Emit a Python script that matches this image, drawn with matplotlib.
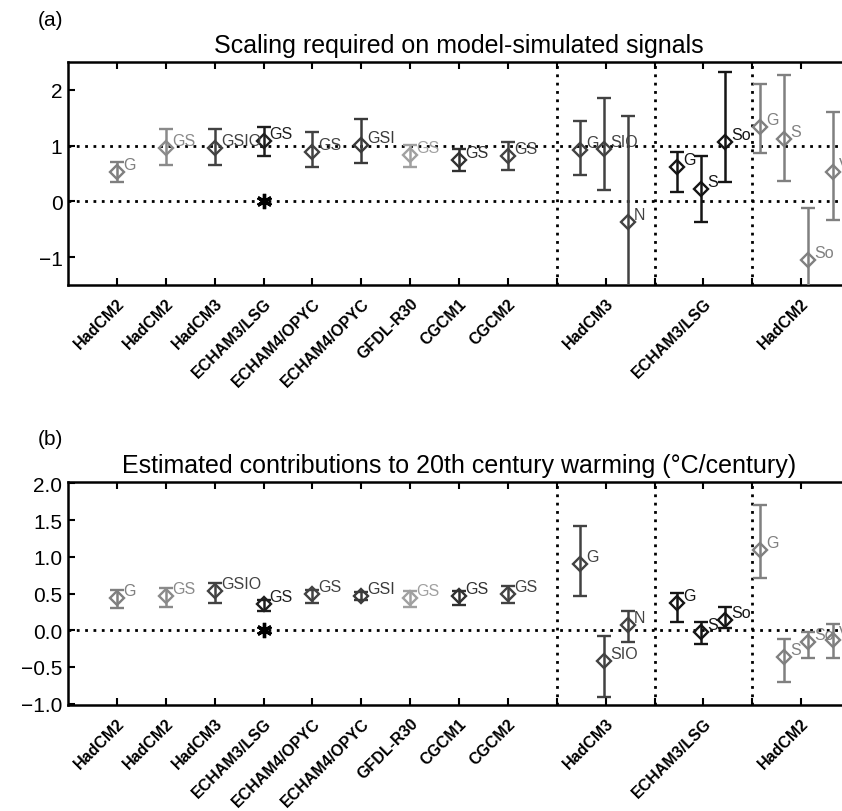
import matplotlib
matplotlib.use("Agg")
import matplotlib.pyplot as plt

plt.rcParams["font.family"] = ["Liberation Sans", "DejaVu Sans"]

# posiciones de cada estimación y su etiqueta de señal
xpos = [1, 2, 3, 4, 5, 6, 7, 8, 9,
        10.47, 10.96, 11.45,
        12.47, 12.96, 13.45,
        14.15, 14.65, 15.15, 15.65]
sig = ["G", "GS", "GSIO", "GS", "GS", "GSI", "GS", "GS", "GS",
       "G", "SIO", "N",
       "G", "S", "So",
       "G", "S", "So", "V"]
grey = ["#7f7f7f", "#8a8a8a", "#424242", "#1e1e1e", "#424242", "#3a3a3a",
        "#a0a0a0", "#303030", "#424242",
        "#424242", "#424242", "#424242",
        "#151515", "#151515", "#151515",
        "#808080", "#808080", "#808080", "#808080"]

# (a) factores de escala
scale_best = [0.53, 0.96, 0.96, 1.08, 0.88, 1.02, 0.83, 0.74, 0.81,
              0.92, 0.94, -0.37, 0.62, 0.22, 1.07, 1.34, 1.11, -1.05, 0.53]
scale_lo = [0.35, 0.65, 0.65, 0.82, 0.62, 0.68, 0.61, 0.55, 0.57,
            0.47, 0.21, -1.7, 0.17, -0.37, 0.35, 0.86, 0.36, -1.7, -0.34]
scale_hi = [0.70, 1.30, 1.30, 1.34, 1.25, 1.48, 1.02, 0.94, 1.06,
            1.44, 1.86, 1.54, 0.89, 0.82, 2.32, 2.10, 2.26, -0.11, 1.60]

# (b) contribuciones al calentamiento
warm_best = [0.44, 0.46, 0.54, 0.36, 0.49, 0.47, 0.44, 0.46, 0.49,
             0.90, -0.42, 0.07, 0.37, -0.02, 0.14, 1.09, -0.36, -0.16, -0.13]
warm_lo = [0.30, 0.31, 0.37, 0.26, 0.37, 0.41, 0.32, 0.34, 0.37,
           0.47, -0.91, -0.16, 0.11, -0.19, 0.03, 0.71, -0.70, -0.38, -0.38]
warm_hi = [0.55, 0.58, 0.64, 0.41, 0.55, 0.52, 0.53, 0.54, 0.60,
           1.42, -0.08, 0.26, 0.51, 0.11, 0.32, 1.71, -0.12, -0.02, 0.09]

# modelo sin forzamiento (asterisco)
star_x = [4]
star_y = [0]

tick_pos = list(range(1, 16))
tick_lab = ["HadCM2", "HadCM2", "HadCM3", "ECHAM3/LSG", "ECHAM4/OPYC",
            "ECHAM4/OPYC", "GFDL-R30", "CGCM1", "CGCM2", "", "HadCM3", "",
            "ECHAM3/LSG", "", "HadCM2"]
sep_x = [10, 12, 14]

W, H = 842, 812
fig = plt.figure(figsize=(W / 100, H / 100), dpi=100)


def panel(top, bottom, best, lo, hi, ylim, yticks, yfmt, hlines, title, tag):
    ax = fig.add_axes([68 / W, 1 - bottom / H, (850 - 68) / W, (bottom - top) / H])
    for h in hlines:
        ax.axhline(h, color="black", linestyle=(0, (1, 2)), linewidth=2, zorder=1)
    for v in sep_x:
        ax.axvline(v, color="black", linestyle=(0, (1, 2)), linewidth=2, zorder=1)
    for x, b, l, u, c, s in zip(xpos, best, lo, hi, grey, sig):
        ax.errorbar([x], [b], yerr=[[b - l], [u - b]], fmt="D", color=c,
                    mfc="none", mec=c, ms=7, mew=1.7, elinewidth=1.8,
                    capsize=5, capthick=1.8, zorder=3)
        ax.annotate(s, (x, b), xytext=(4.5, 0), textcoords="offset points",
                    ha="left", va="bottom", fontsize=11.5, color=c, zorder=4)
    ax.plot(star_x, star_y, linestyle="none", marker=(6, 2, 0), ms=11,
            mew=2.4, color="black", zorder=4)
    ax.set_xlim(0, 16)
    ax.set_ylim(*ylim)
    ax.set_xticks(tick_pos)
    ax.set_xticklabels(tick_lab, rotation=45, ha="right", va="top",
                       rotation_mode="anchor", fontsize=11.5, fontweight="bold")
    ax.set_yticks(yticks)
    ax.set_yticklabels([yfmt.format(t).replace("-", "\u2212") for t in yticks],
                       fontsize=15)
    ax.tick_params(direction="in", top=True, right=True, length=5, width=1.5,
                   pad=4)
    ax.tick_params(axis="x", pad=7.5)
    for sp in ax.spines.values():
        sp.set_linewidth(1.8)
    ax.set_title(title, fontsize=18, pad=7)
    fig.text(38 / W, 1 - (top - 43) / H, tag, fontsize=15, va="center")
    return ax


panel(63, 286, scale_best, scale_lo, scale_hi, (-1.5, 2.5), [-1, 0, 1, 2],
      "{:.0f}", [0, 1], "Scaling required on model-simulated signals", "(a)")
panel(483, 706, warm_best, warm_lo, warm_hi, (-1.02, 2.02),
      [-1.0, -0.5, 0.0, 0.5, 1.0, 1.5, 2.0], "{:.1f}", [0],
      "Estimated contributions to 20th century warming (\u00b0C/century)", "(b)")

fig.savefig("out.png", dpi=100)
